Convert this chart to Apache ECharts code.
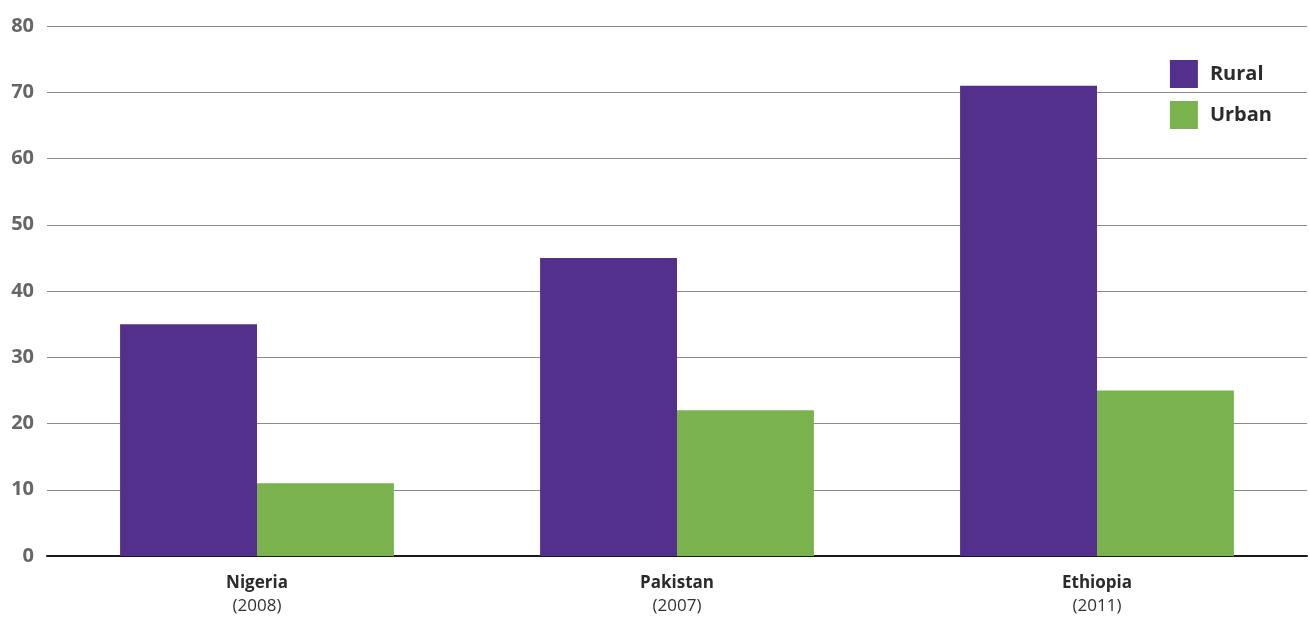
<!DOCTYPE html>
<html><head><meta charset="utf-8">
<script src="https://cdn.jsdelivr.net/npm/echarts@6/dist/echarts.min.js"></script>
<style>html,body{margin:0;padding:0;background:#fff}#c{width:1310px;height:617px}</style>
</head><body><div id="c"></div>
<script>
const countries = ['Nigeria', 'Pakistan', 'Ethiopia'];
const years = ['2008', '2007', '2011'];
const rural = [35, 45, 71];
const urban = [11, 22, 25];
const yTicks = [0, 10, 20, 30, 40, 50, 60, 70, 80];

const categories = countries.map((c, i) => c + '\n' + years[i]);
const chart = echarts.init(document.getElementById('c'));
chart.setOption({
  animation: false,
  textStyle: { fontFamily: 'Open Sans' },
  grid: { left: 47, right: 3, top: 26, bottom: 61, containLabel: false },
  legend: {
    right: 38, top: 60, padding: 0, orient: 'vertical', itemWidth: 28, itemHeight: 28, itemGap: 13,
    icon: 'rect',
    textStyle: { fontSize: 20, fontWeight: 'bold', color: '#2b2b2b', fontFamily: 'Open Sans', padding: [0, 0, 0, 7] },
    data: ['Rural', 'Urban']
  },
  xAxis: {
    type: 'category', data: categories,
    axisLine: { lineStyle: { color: '#1a1a1a', width: 2 } },
    axisTick: { show: false },
    axisLabel: {
      margin: 16,
      formatter: v => { const p = v.split('\n'); return '{a|' + p[0] + '}\n{b|(' + p[1] + ')}'; },
      rich: {
        a: { fontSize: 17, fontWeight: 'bold', color: '#2b2b2b', fontFamily: 'Open Sans', lineHeight: 23 },
        b: { fontSize: 17, color: '#333', fontFamily: 'Open Sans', lineHeight: 23 }
      }
    }
  },
  yAxis: {
    type: 'value', min: yTicks[0], max: yTicks[yTicks.length - 1], interval: 10,
    axisLine: { show: false }, axisTick: { show: false },
    axisLabel: { margin: 13, fontSize: 20, fontWeight: 'bold', color: '#666', fontFamily: 'Open Sans' },
    splitLine: { lineStyle: { color: '#8a8a8a', width: 1 } }
  },
  series: [
    { name: 'Rural', type: 'bar', data: rural, barWidth: '32.6%', barGap: '0%', itemStyle: { color: '#53308b' } },
    { name: 'Urban', type: 'bar', data: urban, barWidth: '32.6%', barGap: '0%', itemStyle: { color: '#7ab24e' } }
  ]
});
</script></body></html>
